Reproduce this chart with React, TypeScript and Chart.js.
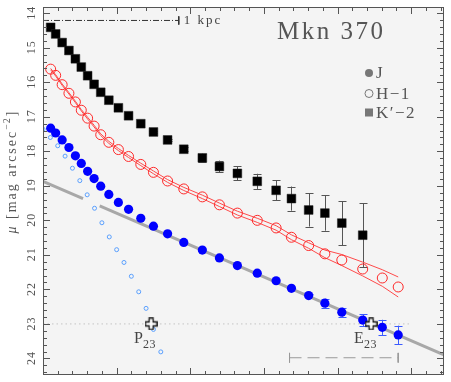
import { useEffect, useRef } from 'react';
import { Chart, registerables } from 'chart.js';

Chart.register(...registerables);

// ---- data (radius in arcsec, surface brightness in mag/arcsec^2) ----
const radii = [0.52, 0.86, 1.30, 1.76, 2.20, 2.60, 3.03, 3.47, 3.92, 4.47, 5.12, 5.81, 6.64, 7.50, 8.46, 9.56, 10.82, 11.98, 13.20, 14.55, 15.83, 16.87, 18.04, 19.14, 20.29, 21.71, 23.04, 24.12];
const kMag = [14.41, 14.60, 14.85, 15.08, 15.32, 15.56, 15.81, 16.06, 16.29, 16.52, 16.74, 16.97, 17.20, 17.44, 17.67, 17.94, 18.19, 18.44, 18.64, 18.87, 19.13, 19.37, 19.70, 19.79, 20.08, 20.43];
const kErr = [0, 0, 0, 0, 0, 0, 0, 0, 0, 0, 0, 0, 0, 0.03, 0.04, 0.06, 0.12, 0.17, 0.20, 0.22, 0.29, 0.35, 0.48, 0.51, 0.64, 0.92];
const jMag = [17.33, 17.47, 17.67, 17.89, 18.13, 18.35, 18.58, 18.79, 19.01, 19.25, 19.48, 19.68, 19.94, 20.17, 20.39, 20.64, 20.86, 21.09, 21.31, 21.53, 21.75, 21.97, 22.18, 22.40, 22.66, 22.89, 23.10, 23.32];
const jErr = [0, 0, 0, 0, 0, 0, 0, 0, 0, 0, 0, 0, 0, 0, 0, 0, 0, 0, 0, 0, 0, 0, 0.05, 0.13, 0.13, 0.17, 0.22, 0.27];
const hMag = [15.62, 15.80, 16.07, 16.32, 16.57, 16.81, 17.04, 17.27, 17.52, 17.74, 17.95, 18.15, 18.38, 18.61, 18.86, 19.09, 19.32, 19.55, 19.79, 20.00, 20.22, 20.49, 20.73, 20.97, 21.15, 21.41, 21.67, 21.93];
const hErr = [0.02, 0.02, 0.02, 0.02, 0.02, 0.02, 0.025, 0.025, 0.025, 0.03, 0.03, 0.03, 0.035, 0.04, 0.04, 0.045, 0.05, 0.05, 0.055, 0.06, 0.065, 0.07, 0.08, 0.11, 0.16, 0.20, 0.24, 0.29];
const pRadii = [0, 0.5, 1.0, 1.5, 2.0, 2.5, 3.0, 3.5, 4.0, 4.5, 5.0, 5.5, 6.0, 6.5, 7.0, 7.5, 8.0];
const pMag = [17.36, 17.60, 17.84, 18.14, 18.49, 18.85, 19.26, 19.65, 20.07, 20.48, 20.85, 21.22, 21.62, 22.07, 22.55, 23.16, 23.81];
const fitSeg1X = [0, 2.72];
const fitSeg1Y = [18.87, 19.37];
const fitSeg2X = [3.85, 27.23];
const fitSeg2Y = [19.58, 23.90];
const refLevel = 23;
const refLevelX = [0, 25];
const scaleBarX = [0, 9.22];
const scaleBarY = 14.21;
const scaleBarLabel = '1 kpc';
const fitRangeX = [16.74, 24.12];
const fitRangeY = 23.98;
const crossX = [7.34, 22.28];
const crossY = [23, 23];
const crossNames = ['P', 'E'];
const crossSub = '23';
const yTicks = [14, 15, 16, 17, 18, 19, 20, 21, 22, 23, 24];
const legendNames = ['J', 'H\u22121', 'K\u2032\u22122'];
const titleText = 'Mkn 370';
const X_MIN = 0, X_MAX = 27.23, Y_MIN = 13.82, Y_MAX = 24.48;

const SERIF = '"Liberation Serif", "DejaVu Serif", serif';

function pts(xs: number[], ys: number[]) {
  return ys.map((y, i) => ({ x: xs[i], y }));
}

function makeCross(): HTMLCanvasElement {
  const c = document.createElement('canvas');
  c.width = 13; c.height = 13;
  const g = c.getContext('2d')!;
  const m = 6.5, a = 2, lo = 0.8, hi = 12.2;
  g.beginPath();
  g.moveTo(m - a, lo); g.lineTo(m + a, lo); g.lineTo(m + a, m - a); g.lineTo(hi, m - a);
  g.lineTo(hi, m + a); g.lineTo(m + a, m + a); g.lineTo(m + a, hi); g.lineTo(m - a, hi);
  g.lineTo(m - a, m + a); g.lineTo(lo, m + a); g.lineTo(lo, m - a); g.lineTo(m - a, m - a);
  g.closePath();
  g.fillStyle = '#ffffff'; g.fill();
  g.strokeStyle = '#111'; g.lineWidth = 1.3; g.stroke();
  return c;
}

function drawErrors(chart: any, xs: number[], ys: number[], es: number[], color: string) {
  const { ctx, scales } = chart;
  const xs_ = scales.x, ys_ = scales.y;
  ctx.save();
  ctx.strokeStyle = color;
  ctx.lineWidth = 1;
  for (let i = 0; i < ys.length; i++) {
    if (!es[i]) continue;
    const px = Math.round(xs_.getPixelForValue(xs[i])) + 0.5;
    const y1 = ys_.getPixelForValue(ys[i] - es[i]);
    const y2 = ys_.getPixelForValue(ys[i] + es[i]);
    ctx.beginPath();
    ctx.moveTo(px, y1); ctx.lineTo(px, y2);
    ctx.moveTo(px - 4, Math.round(y1) + 0.5); ctx.lineTo(px + 4, Math.round(y1) + 0.5);
    ctx.moveTo(px - 4, Math.round(y2) + 0.5); ctx.lineTo(px + 4, Math.round(y2) + 0.5);
    ctx.stroke();
  }
  ctx.restore();
}

function spacedText(ctx: CanvasRenderingContext2D, text: string, x: number, y: number, spacing: number) {
  (ctx as any).letterSpacing = spacing + 'px';
  ctx.fillText(text, x, y);
  (ctx as any).letterSpacing = '0px';
}

const decorPlugin = {
  id: 'decor',
  beforeDraw(chart: any) {
    const { ctx, chartArea: a } = chart;
    ctx.save();
    ctx.fillStyle = '#f4f4f4';
    ctx.fillRect(a.left, a.top, a.right - a.left, a.bottom - a.top);
    ctx.restore();
  },
  beforeDatasetsDraw(chart: any) {
    drawErrors(chart, radii, kMag, kErr, '#555555');
    drawErrors(chart, radii, jMag, jErr, '#3b5bff');
  },
  afterDraw(chart: any) {
    const { ctx, chartArea: a, scales } = chart;
    const xs = scales.x, ys = scales.y;
    ctx.save();
    // frame
    ctx.strokeStyle = '#555';
    ctx.lineWidth = 1;
    ctx.strokeRect(a.left + 0.5, a.top + 0.5, a.right - a.left - 1, a.bottom - a.top - 1);
    // y ticks (every 0.2)
    ctx.beginPath();
    for (let k = Math.ceil(Y_MIN * 5); k <= Math.floor(Y_MAX * 5); k++) {
      const py = Math.round(ys.getPixelForValue(k / 5)) + 0.5;
      const len = k % 5 === 0 ? 7 : 4;
      ctx.moveTo(a.left, py); ctx.lineTo(a.left + len, py);
      ctx.moveTo(a.right, py); ctx.lineTo(a.right - len, py);
    }
    // x ticks (every 1)
    for (let i = Math.ceil(X_MIN); i <= Math.floor(X_MAX); i++) {
      const px = Math.round(xs.getPixelForValue(i)) + 0.5;
      const len = i % 5 === 0 ? 7 : 4;
      ctx.moveTo(px, a.top); ctx.lineTo(px, a.top + len);
      ctx.moveTo(px, a.bottom); ctx.lineTo(px, a.bottom - len);
    }
    ctx.stroke();

    // y tick labels, rotated
    ctx.fillStyle = '#555';
    ctx.font = '12px ' + SERIF;
    ctx.textAlign = 'center';
    ctx.textBaseline = 'alphabetic';
    for (const v of yTicks) {
      const py = ys.getPixelForValue(v);
      ctx.save();
      ctx.translate(35, py);
      ctx.rotate(-Math.PI / 2);
      spacedText(ctx, String(v), 0.5, 0, 1);
      ctx.restore();
    }

    // y axis title
    ctx.save();
    ctx.translate(16, 172);
    ctx.rotate(-Math.PI / 2);
    ctx.fillStyle = '#555';
    ctx.textAlign = 'left';
    const mu = '\u03bc';
    const main = ' [mag arcsec';
    const sup = '\u22122';
    const close = ']';
    ctx.font = 'italic 14px ' + SERIF;
    (ctx as any).letterSpacing = '2px';
    const w0 = ctx.measureText(mu).width;
    ctx.font = '14px ' + SERIF;
    const w1 = ctx.measureText(main).width;
    const w3 = ctx.measureText(close).width;
    ctx.font = '10px ' + SERIF;
    (ctx as any).letterSpacing = '1px';
    const w2 = ctx.measureText(sup).width;
    const x0 = -(w0 + w1 + w2 + w3) / 2;
    ctx.font = 'italic 14px ' + SERIF;
    spacedText(ctx, mu, x0, 0, 2);
    ctx.font = '14px ' + SERIF;
    spacedText(ctx, main, x0 + w0, 0, 2);
    ctx.font = '10px ' + SERIF;
    spacedText(ctx, sup, x0 + w0 + w1, -6, 1);
    ctx.font = '14px ' + SERIF;
    spacedText(ctx, close, x0 + w0 + w1 + w2 + 1, 0, 2);
    ctx.restore();

    // title
    ctx.fillStyle = '#555';
    ctx.textAlign = 'left';
    ctx.font = '25px ' + SERIF;
    spacedText(ctx, titleText, 277, 39, 2.5);

    // scale bar label
    ctx.font = '13px ' + SERIF;
    ctx.fillStyle = '#444';
    spacedText(ctx, scaleBarLabel, xs.getPixelForValue(scaleBarX[1]) + 5, ys.getPixelForValue(scaleBarY) + 4, 2);

    // cross labels
    for (let i = 0; i < crossX.length; i++) {
      const px = xs.getPixelForValue(crossX[i]);
      const py = ys.getPixelForValue(crossY[i]);
      ctx.fillStyle = '#444';
      ctx.font = '16px ' + SERIF;
      const bx = px - 17;
      spacedText(ctx, crossNames[i], bx, py + 19, 0);
      const wn = ctx.measureText(crossNames[i]).width;
      ctx.font = '12px ' + SERIF;
      spacedText(ctx, crossSub, bx + wn, py + 24, 0.5);
    }

    // legend
    const lx = 369;
    const rows = [73, 93.5, 112.5];
    ctx.fillStyle = '#777';
    ctx.strokeStyle = '#777';
    ctx.beginPath(); ctx.arc(lx, rows[0], 4, 0, Math.PI * 2); ctx.fill();
    ctx.beginPath(); ctx.arc(lx, rows[1], 4, 0, Math.PI * 2); ctx.lineWidth = 1; ctx.stroke();
    ctx.fillRect(lx - 4, rows[2] - 4, 8, 8);
    ctx.fillStyle = '#555';
    ctx.font = '17px ' + SERIF;
    ctx.textBaseline = 'middle';
    for (let i = 0; i < legendNames.length; i++) {
      spacedText(ctx, legendNames[i], lx + 7, rows[i] + 1, 1.5);
    }
    ctx.restore();
  },
};

export default function App() {
  const ref = useRef<HTMLCanvasElement>(null);
  useEffect(() => {
    document.body.style.margin = '0';
    const cross = makeCross();
    const lineBase = { showLine: true, pointRadius: 0, pointHoverRadius: 0, fill: false, tension: 0 };
    const chart = new Chart(ref.current!, {
      type: 'scatter',
      data: {
        datasets: [
          { label: 'crosses', data: pts(crossX, crossY), pointStyle: cross as any, pointRadius: 6, order: 0 },
          { label: "K'-2", data: pts(radii, kMag), pointStyle: 'rect', pointRadius: 6.2, backgroundColor: '#000', borderColor: '#222', borderWidth: 0.5, order: 1 },
          { label: 'J', data: pts(radii, jMag), pointStyle: 'circle', pointRadius: 4.6, backgroundColor: '#0000ff', borderWidth: 0, order: 2 },
          { label: 'H-1', data: pts(radii, hMag), pointStyle: 'circle', pointRadius: 5, backgroundColor: 'rgba(0,0,0,0)', borderColor: '#ff2a2a', borderWidth: 1, order: 3 },
          { label: 'P', data: pts(pRadii, pMag), pointStyle: 'circle', pointRadius: 2, backgroundColor: 'rgba(0,0,0,0)', borderColor: '#5aa0ff', borderWidth: 1, order: 4 },
          { ...lineBase, label: 'H upper', data: pts(radii, hMag.map((v, i) => v - hErr[i])), borderColor: '#ff4a4a', borderWidth: 1, order: 5 },
          { ...lineBase, label: 'H lower', data: pts(radii, hMag.map((v, i) => v + hErr[i])), borderColor: '#ff4a4a', borderWidth: 1, order: 5 },
          { ...lineBase, label: 'scale bar', data: pts(scaleBarX, [scaleBarY, scaleBarY]), borderColor: '#333', borderWidth: 1, borderDash: [6, 2, 1, 2], order: 6 },
          { ...lineBase, label: 'scale bar end', data: pts([scaleBarX[1], scaleBarX[1]], [scaleBarY - 0.12, scaleBarY + 0.12]), borderColor: '#333', borderWidth: 1, order: 6 },
          { ...lineBase, label: 'fit 1', data: pts(fitSeg1X, fitSeg1Y), borderColor: '#a8a8a8', borderWidth: 3, order: 7 },
          { ...lineBase, label: 'fit 2', data: pts(fitSeg2X, fitSeg2Y), borderColor: '#a8a8a8', borderWidth: 3, order: 7 },
          { ...lineBase, label: 'ref', data: pts(refLevelX, [refLevel, refLevel]), borderColor: '#c4c4c4', borderWidth: 1, borderDash: [1.5, 3], order: 8 },
          { ...lineBase, label: 'range', data: pts(fitRangeX, [fitRangeY, fitRangeY]), borderColor: '#999', borderWidth: 1, borderDash: [12, 6], order: 8 },
          { ...lineBase, label: 'range l', data: pts([fitRangeX[0], fitRangeX[0]], [fitRangeY - 0.14, fitRangeY + 0.14]), borderColor: '#999', borderWidth: 1, order: 8 },
          { ...lineBase, label: 'range r', data: pts([fitRangeX[1], fitRangeX[1]], [fitRangeY - 0.14, fitRangeY + 0.14]), borderColor: '#999', borderWidth: 1, order: 8 },
        ] as any,
      },
      options: {
        animation: false,
        responsive: false,
        devicePixelRatio: 1,
        events: [],
        layout: { padding: { left: 43, right: 5, top: 1, bottom: 1 } },
        scales: {
          x: { type: 'linear', min: X_MIN, max: X_MAX, display: false },
          y: { type: 'linear', min: Y_MIN, max: Y_MAX, reverse: true, display: false },
        },
        plugins: { legend: { display: false }, tooltip: { enabled: false } },
      },
      plugins: [decorPlugin],
    });
    return () => chart.destroy();
  }, []);
  return (
    <div style={{ position: 'absolute', left: 0, top: 0, width: 451, height: 382 }}>
      <canvas ref={ref} width={451} height={382} style={{ display: 'block' }} />
    </div>
  );
}
